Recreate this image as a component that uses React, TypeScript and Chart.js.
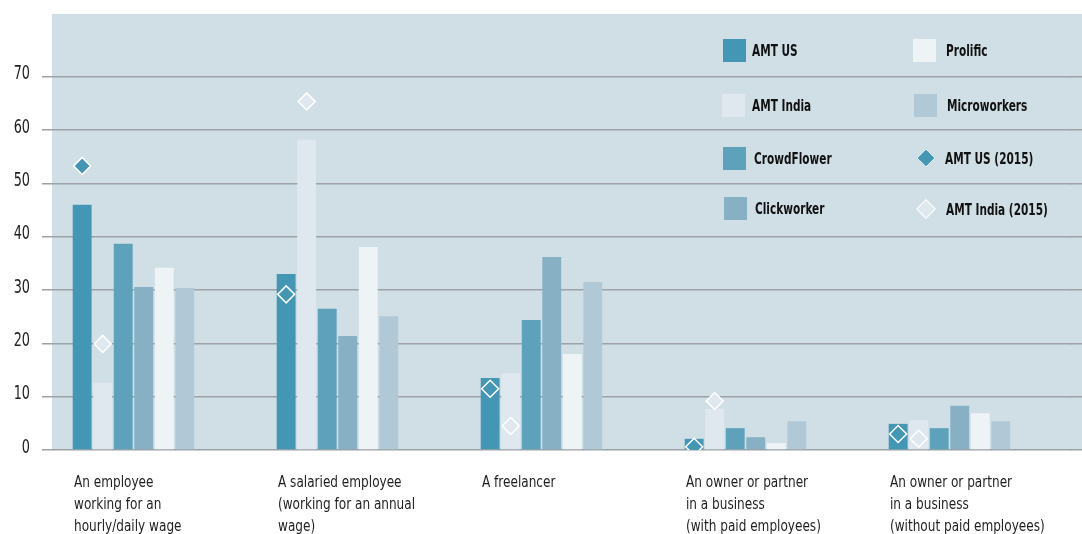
import React, { useEffect, useRef } from "react";
import { Chart, registerables } from "chart.js";

Chart.register(...registerables);

// ---------- data ----------
const categories: string[][] = [
  ["An employee", "working for an", "hourly/daily wage"],
  ["A salaried employee", "(working for an annual", "wage)"],
  ["A freelancer"],
  ["An owner or partner", "in a business", "(with paid employees)"],
  ["An owner or partner", "in a business", "(without paid employees)"],
];
const amtUS = [46.0, 33.0, 13.5, 2.1, 4.9];
const amtIndia = [12.6, 58.2, 14.4, 7.7, 5.6];
const crowdFlower = [38.7, 26.5, 24.4, 4.1, 4.1];
const clickworker = [30.6, 21.4, 36.2, 2.4, 8.3];
const prolific = [34.2, 38.1, 18.0, 1.3, 6.9];
const microworkers = [30.4, 25.1, 31.5, 5.4, 5.4];
const amtUS2015 = [53.3, 29.2, 11.5, 0.6, 3.0];
const amtIndia2015 = [19.9, 65.4, 4.5, 9.2, 2.1];
const yTickValues = [0, 10, 20, 30, 40, 50, 60, 70];

// ---------- styles ----------
const FONT = "'DejaVu Sans Condensed', 'DejaVu Sans', sans-serif";
const BG = "#d0dfe6";
const GRID = "#9ca2a6";
const TEXT = "#1e1e1e";
const C_AMTUS = "#4396b4";
const C_AMTIN = "#dfe8ef";
const C_CF = "#5ea1bb";
const C_CW = "#87b0c5";
const C_PRO = "#eef3f6";
const C_MW = "#b1c9d6";

const barSeries = [
  { label: "AMT US", data: amtUS, color: C_AMTUS },
  { label: "AMT India", data: amtIndia, color: C_AMTIN },
  { label: "CrowdFlower", data: crowdFlower, color: C_CF },
  { label: "Clickworker", data: clickworker, color: C_CW },
  { label: "Prolific", data: prolific, color: C_PRO },
  { label: "Microworkers", data: microworkers, color: C_MW },
];
const pointSeries = [
  { label: "AMT US (2015)", data: amtUS2015, color: C_AMTUS, alignTo: 0 },
  { label: "AMT India (2015)", data: amtIndia2015, color: C_AMTIN, alignTo: 1 },
];

// legend layout (positions only)
const legendItems = [
  { label: "AMT US", color: C_AMTUS, kind: "box", bx: 723, by: 39, tx: 752 },
  { label: "AMT India", color: C_AMTIN, kind: "box", bx: 722, by: 94, tx: 752 },
  { label: "CrowdFlower", color: C_CF, kind: "box", bx: 723, by: 147, tx: 754 },
  { label: "Clickworker", color: C_CW, kind: "box", bx: 724, by: 197, tx: 755 },
  { label: "Prolific", color: C_PRO, kind: "box", bx: 913, by: 39, tx: 946 },
  { label: "Microworkers", color: C_MW, kind: "box", bx: 914, by: 94, tx: 947 },
  { label: "AMT US (2015)", color: C_AMTUS, kind: "diamond", bx: 916, by: 147, tx: 945 },
  { label: "AMT India (2015)", color: C_AMTIN, kind: "diamond", bx: 916, by: 198, tx: 946 },
];

const X_LABEL_SHIFT = -80;
const X_LABEL_FIRST_BASELINE = 37;
const X_LABEL_LINE = 22.2;
const X_FONT_SIZE = 16;
const X_SCALE = 0.84;
const Y_FONT_SIZE = 19;
const Y_SCALE = 0.75;

function alignPx(chart: any, pixel: number, width: number) {
  const dpr = chart.currentDevicePixelRatio || 1;
  const half = width / 2;
  return Math.round((pixel - half) * dpr) / dpr + half;
}

const customPlugin = {
  id: "custom",
  afterDatasetsUpdate(chart: any) {
    const nBars = barSeries.length + 2;
    pointSeries.forEach((ps, k) => {
      const meta = chart.getDatasetMeta(nBars + k);
      const barMeta = chart.getDatasetMeta(ps.alignTo);
      meta.data.forEach((pt: any, i: number) => {
        if (barMeta.data[i]) pt.x = barMeta.data[i].x;
      });
    });
  },
  beforeDraw(chart: any) {
    const { ctx, chartArea } = chart;
    ctx.save();
    ctx.fillStyle = BG;
    ctx.fillRect(chartArea.left, chartArea.top, chart.width - chartArea.left, chartArea.bottom - chartArea.top);
    ctx.restore();
  },
  beforeDatasetsDraw(chart: any) {
    const { ctx, chartArea } = chart;
    const ys = chart.scales.y;
    ctx.save();
    ctx.strokeStyle = GRID;
    ctx.lineWidth = 1.5;
    ys.ticks.forEach((t: any) => {
      const py = alignPx(chart, ys.getPixelForValue(t.value), 1.5);
      ctx.beginPath();
      ctx.moveTo(chartArea.right - 1, py);
      ctx.lineTo(chart.width, py);
      ctx.stroke();
    });
    ctx.restore();
  },
  afterDraw(chart: any) {
    const { ctx, chartArea } = chart;
    const xs = chart.scales.x;
    const ys = chart.scales.y;
    ctx.save();
    ctx.fillStyle = TEXT;
    // category labels (condensed look)
    ctx.font = `${X_FONT_SIZE}px ${FONT}`;
    ctx.textAlign = "left";
    ctx.textBaseline = "alphabetic";
    categories.forEach((lines, i) => {
      const x = xs.getPixelForTick(i) + X_LABEL_SHIFT;
      lines.forEach((line, j) => {
        const y = chartArea.bottom + X_LABEL_FIRST_BASELINE + j * X_LABEL_LINE;
        ctx.save();
        ctx.translate(x, y);
        ctx.scale(X_SCALE, 1);
        ctx.fillText(line, 0, 0);
        ctx.restore();
      });
    });
    // y tick labels
    ctx.font = `${Y_FONT_SIZE}px ${FONT}`;
    ctx.textAlign = "right";
    ys.ticks.forEach((t: any) => {
      const y = ys.getPixelForValue(t.value) + 2.5;
      ctx.save();
      ctx.translate(30, y);
      ctx.scale(Y_SCALE, 1);
      ctx.fillText(String(t.value), 0, 0);
      ctx.restore();
    });
    ctx.restore();
  },
};

export default function App() {
  const canvasRef = useRef<HTMLCanvasElement | null>(null);

  useEffect(() => {
    document.body.style.margin = "0";
    const canvas = canvasRef.current;
    if (!canvas) return;

    const datasets: any[] = [];
    barSeries.forEach((s) => {
      datasets.push({
        type: "bar",
        label: s.label,
        data: s.data,
        backgroundColor: s.color,
        borderWidth: 0,
        order: 1,
        barPercentage: 0.92,
        categoryPercentage: 0.805,
      });
    });
    // two empty slots (the original reserves room for 8 series per group)
    for (let k = 0; k < 2; k++) {
      datasets.push({
        type: "bar",
        label: "",
        data: categories.map(() => null),
        backgroundColor: "rgba(0,0,0,0)",
        order: 1,
        barPercentage: 0.92,
        categoryPercentage: 0.805,
      });
    }
    pointSeries.forEach((s) => {
      datasets.push({
        type: "line",
        label: s.label,
        data: s.data,
        showLine: false,
        pointStyle: "rectRot",
        pointRadius: 8.5,
        pointHoverRadius: 8.5,
        pointBackgroundColor: s.color,
        pointBorderColor: "#ffffff",
        pointBorderWidth: 1.5,
        order: 0,
      });
    });

    const chart = new Chart(canvas, {
      type: "bar",
      data: { labels: categories.map((c) => c.join(" ")), datasets },
      plugins: [customPlugin],
      options: {
        animation: false,
        responsive: false,
        maintainAspectRatio: false,
        layout: { padding: { top: 14, right: 6.25, bottom: 0, left: 0 } },
        plugins: {
          legend: { display: false },
          tooltip: { enabled: false },
        },
        scales: {
          x: {
            type: "category",
            grid: { display: false, drawTicks: false },
            border: { display: false },
            ticks: { display: false },
            afterFit: (s: any) => {
              s.height = 84;
              s.paddingLeft = 0;
              s.paddingRight = 0;
            },
          },
          y: {
            min: 0,
            max: 81.8,
            grid: {
              color: GRID,
              lineWidth: 1.5,
              tickLength: 10,
              drawTicks: true,
            },
            border: { display: false },
            afterBuildTicks: (s: any) => {
              s.ticks = yTickValues.map((v) => ({ value: v }));
            },
            ticks: { display: false },
            afterFit: (s: any) => {
              s.width = 52;
              s.paddingTop = 0;
              s.paddingBottom = 0;
            },
          },
        },
      } as any,
    });
    return () => chart.destroy();
  }, []);

  return (
    <div style={{ position: "relative", width: 1082, height: 534 }}>
      <canvas ref={canvasRef} width={1082} height={534} style={{ display: "block" }} />
      {legendItems.map((it) => (
        <React.Fragment key={it.label}>
          {it.kind === "box" ? (
            <div
              style={{
                position: "absolute",
                left: it.bx,
                top: it.by,
                width: 23,
                height: 23,
                background: it.color,
              }}
            />
          ) : (
            <div
              style={{
                position: "absolute",
                left: it.bx + 3,
                top: it.by + 4,
                width: 14,
                height: 14,
                boxSizing: "border-box",
                background: it.color,
                border: "1.5px solid #ffffff",
                transform: "rotate(45deg)",
              }}
            />
          )}
          <div
            style={{
              position: "absolute",
              left: it.tx,
              top: it.by + 11.5,
              transform: "translateY(-50%) scaleX(0.71)",
              transformOrigin: "left center",
              fontFamily: FONT,
              fontWeight: 700,
              fontSize: 16.5,
              color: "#111111",
              whiteSpace: "nowrap",
              lineHeight: 1,
            }}
          >
            {it.label}
          </div>
        </React.Fragment>
      ))}
    </div>
  );
}
